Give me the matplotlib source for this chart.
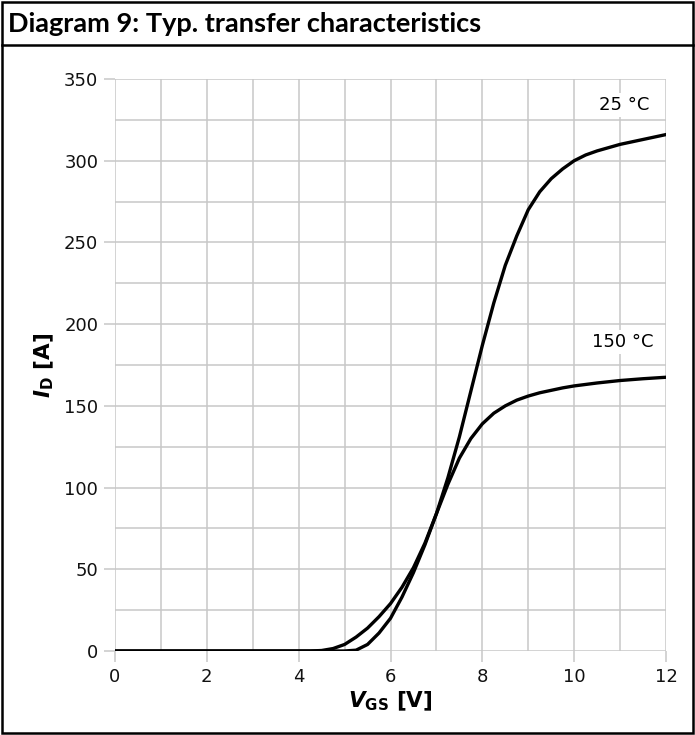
import matplotlib
matplotlib.use("Agg")
import matplotlib.pyplot as plt
from matplotlib.patches import Rectangle
from matplotlib.lines import Line2D

plt.rcParams['font.family'] = 'DejaVu Sans'
plt.rcParams['mathtext.fontset'] = 'dejavusans'

# values
vgs_25 = [0, 4.5, 5.0, 5.25, 5.5, 5.75, 6.0, 6.25, 6.5, 6.75, 7.0, 7.25, 7.5, 7.75,
          8.0, 8.25, 8.5, 8.75, 9.0, 9.25, 9.5, 9.75, 10.0, 10.25, 10.5, 10.75,
          11.0, 11.25, 11.5, 11.75, 12.0]
id_25 = [0, 0, 0, 0.5, 4, 11, 20, 33, 48, 65, 84, 106, 131, 159,
         187, 213, 236, 254, 270, 281, 289, 295, 300, 303.5, 306, 308,
         310, 311.5, 313, 314.5, 316]

vgs_150 = [0, 4.25, 4.5, 4.75, 5.0, 5.25, 5.5, 5.75, 6.0, 6.25, 6.5, 6.75, 7.0, 7.25,
           7.5, 7.75, 8.0, 8.25, 8.5, 8.75, 9.0, 9.25, 9.5, 9.75, 10.0, 10.5,
           11.0, 11.5, 12.0]
id_150 = [0, 0, 0.3, 1.5, 4, 8.5, 14, 21, 29, 39, 51, 66, 84, 102,
          118, 130, 139, 145.5, 150, 153.5, 156, 158, 159.5, 161, 162.2, 164,
          165.5, 166.6, 167.5]

x_ticks = [0, 2, 4, 6, 8, 10, 12]
y_ticks = [0, 50, 100, 150, 200, 250, 300, 350]
title = "Diagram 9: Typ. transfer characteristics"

W, H = 695, 735
fig = plt.figure(figsize=(W / 100, H / 100), dpi=100)
ax = fig.add_axes([115 / W, 1 - 651 / H, (666 - 115) / W, (651 - 79) / H])

ax.set_xlim(0, 12)
ax.set_ylim(0, 350)
ax.set_xticks(x_ticks)
ax.set_yticks(y_ticks)
ax.set_xticks(range(0, 13), minor=True)
ax.set_yticks(range(0, 351, 25), minor=True)
ax.grid(True, which="both", color="#c8c8c8", linewidth=1.1)
ax.set_axisbelow(True)
for s in ax.spines.values():
    s.set_visible(False)
ax.tick_params(which="major", length=8, width=1.1, color="#c8c8c8",
               labelsize=13, labelcolor="#111111", pad=4)
ax.tick_params(which="minor", length=0)

ax.plot(vgs_25, id_25, color="black", linewidth=2.4, solid_joinstyle="round")
ax.plot(vgs_150, id_150, color="black", linewidth=2.4, solid_joinstyle="round")

box = dict(facecolor="white", edgecolor="none", pad=2)
ax.text(11.1, 334, "25 °C", fontsize=13, ha="center", va="center", bbox=box)
ax.text(11.05, 189, "150 °C", fontsize=13, ha="center", va="center", bbox=box)

ax.set_xlabel(r"$\mathbfit{V}_{\mathbf{GS}}$ [V]", fontsize=15.5, fontweight="bold", labelpad=3)
ax.set_ylabel(r"$\mathbfit{I}_{\mathbf{D}}$ [A]", fontsize=15.5, fontweight="bold", labelpad=6)

# frame and title band
fig.patches.append(Rectangle((2 / W, 2 / H), (W - 4) / W, (H - 4) / H,
                             transform=fig.transFigure, fill=False,
                             edgecolor="black", linewidth=1.8))
fig.lines.append(Line2D([2 / W, (W - 2) / W], [1 - 45 / H, 1 - 45 / H],
                        transform=fig.transFigure, color="black", linewidth=1.8))
fig.text(8 / W, 1 - 24 / H, title, fontsize=19.5, fontweight="bold",
         family="Lato", ha="left", va="center")

fig.savefig("out.png", dpi=100)
